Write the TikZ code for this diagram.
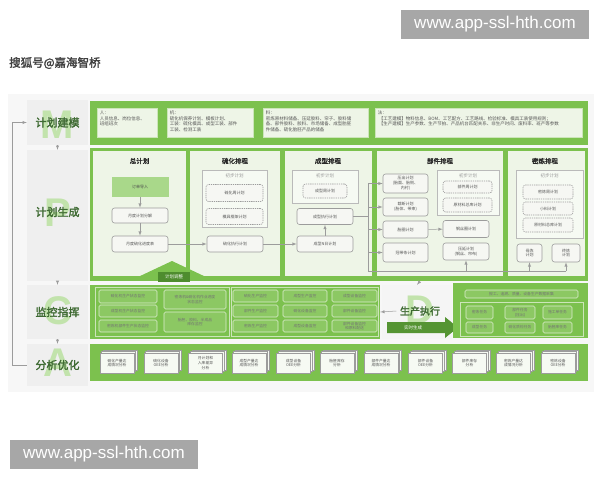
\documentclass[tikz,border=0pt]{standalone}
\usepackage{fontspec}
\usepackage{tikz}
\usetikzlibrary{arrows,positioning,shapes,shadows}

\newfontfamily\cjk{Noto Sans CJK SC}[AutoFakeBold=2]
\newfontfamily\wmfont{Liberation Sans}

\definecolor{gmain}{HTML}{7CC14E}
\definecolor{gpale}{HTML}{EEF5E7}
\definecolor{gdark}{HTML}{4E8C2E}
\definecolor{glight}{HTML}{A9D88A}
\definecolor{gletter}{HTML}{C2E3AC}
\definecolor{labtxt}{HTML}{3E6A32}
\definecolor{boxline}{HTML}{9C9C9C}
\definecolor{boxfill}{HTML}{F6F7F3}
\definecolor{txtgray}{HTML}{555555}
\definecolor{labbg}{HTML}{EFEFEF}
\definecolor{wmgray}{HTML}{A7A7A7}

\tikzset{
  x=1pt, y=-1pt,
  wmark/.style={fill=wmgray, text=white, font=\wmfont\fontsize{17}{18}\selectfont, minimum width=188, minimum height=29, inner sep=0pt},
  labbox/.style={fill=labbg, minimum width=61, inner sep=0pt},
  secname/.style={font=\cjk\bfseries\fontsize{11}{12}\selectfont, text=labtxt},
  bigltr/.style={font=\wmfont\bfseries\fontsize{40}{40}\selectfont, text=gletter},
  frame/.style={fill=gmain, inner sep=0pt},
  panel/.style={fill=gpale, inner sep=0pt, minimum height=125},
  coltitle/.style={font=\cjk\bfseries\fontsize{6.5}{7}\selectfont, text=black!85},
  mdlbox/.style={fill=gpale, draw=gpale!70!gmain, line width=0.6pt, inner sep=0pt, minimum height=29},
  mdltext/.style={font=\cjk\fontsize{4.5}{5.5}\selectfont, text=txtgray, align=left, inner sep=0pt},
  pbox/.style={draw=boxline, fill=boxfill, rounded corners=2.5pt, line width=0.6pt, align=center, inner sep=0pt, font=\cjk\fontsize{4}{4.8}\selectfont, text=txtgray},
  dbox/.style={pbox, dash pattern=on 1.3pt off 0.9pt},
  grpbox/.style={draw=boxline!70, fill=white!50!gpale, line width=0.5pt, inner sep=0pt},
  grptitle/.style={font=\cjk\fontsize{4.5}{5}\selectfont, text=black!40, inner sep=0pt},
  conn/.style={draw=boxline, line width=0.5pt},
  mbox/.style={draw=gpale!85!gmain, fill=gmain!88!white, line width=0.6pt, rounded corners=1.5pt, inner sep=0pt, align=center, font=\cjk\fontsize{3.8}{4.6}\selectfont, text=black!55},
  mgrp/.style={draw=gpale!70!gmain, line width=0.6pt},
  darklab/.style={fill=gdark, text=white, font=\cjk\fontsize{4.5}{5}\selectfont, inner sep=0pt},
  doc/.style={draw=boxline, fill=gpale!50!white, line width=0.4pt, minimum width=34, minimum height=20, inner sep=0pt, align=center, font=\cjk\fontsize{3.8}{4.6}\selectfont, text=txtgray,
    double copy shadow={shadow xshift=1.6pt, shadow yshift=1.6pt, draw=boxline, fill=gpale!50!white, line width=0.4pt}},
}

\begin{document}
\begin{tikzpicture}
\useasboundingbox (0,0) rectangle (600,480);

% watermarks and title
\node[wmark] (wm1) at (495,24.5) {www.app-ssl-hth.com};
\node[wmark] (wm2) at (104,454.5) {www.app-ssl-hth.com};
\node[font=\cjk\bfseries\fontsize{11.5}{12}\selectfont, text=black!75, anchor=west, inner sep=0pt] (ttl) at (9,63) {搜狐号@嘉海智桥};

% background
\fill[black!3] (8,94) rectangle (594,392);

% left labels
\node[labbox, minimum height=45] (jm) at (57.5,122.5) {};
\node[labbox, minimum height=131] (sc) at (57.5,215.5) {};
\node[labbox, minimum height=54] (jk) at (57.5,312) {};
\node[labbox, minimum height=42] (fx) at (57.5,365) {};
\node[bigltr] (ltrm) at (57.5,125) {M};
\node[bigltr] (ltrp) at (57.5,213) {P};
\node[bigltr] (ltrc) at (57.5,311) {C};
\node[bigltr] (ltra) at (57.5,363) {A};
\node[secname] (jmt) at (jm) {计划建模};
\node[secname] (sct) at (57.5,212) {计划生成};
\node[secname] (jkt) at (jk) {监控指挥};
\node[secname] (fxt) at (fx) {分析优化};
\coordinate (lbtop) at (12,122.5);
\draw[conn,-latex] (fx.west) -| (lbtop) -- (jm.west);
\draw[conn,-latex] (jm.south) -- (sc.north);
\draw[conn,-latex] (sc.south) -- (jk.north);
\draw[conn,-latex] (jk.south) -- (fx.north);

% plan modelling
\node[frame, minimum width=498, minimum height=44] (jmf) at (339,123) {};
\node[mdlbox, minimum width=60] (mren) at (127,122.5) {};
\node[mdlbox, minimum width=86] (mji) at (210,122.5) {};
\node[mdlbox, minimum width=105] (mliao) at (315.5,122.5) {};
\node[mdlbox, minimum width=207] (mfa) at (478.5,122.5) {};
\node[mdltext, anchor=north west] (mrent) at ([xshift=3pt,yshift=-3pt]mren.north west) {人：\\人员信息、岗位信息、\\班组班次};
\node[mdltext, anchor=north west] (mjit) at ([xshift=3pt,yshift=-3pt]mji.north west) {机：\\硫化机保养计划、模板计划、\\工装：硫化模具、成型工装、部件\\工装、检测工装};
\node[mdltext, anchor=north west] (mliaot) at ([xshift=3pt,yshift=-3pt]mliao.north west) {料：\\密炼原材料储备、压延胶料、帘子、胶料储\\备、部件胶料、胶料、市场储备、成型胎胚\\件储备、硫化胎胚产品的储备};
\node[mdltext, anchor=north west] (mfat) at ([xshift=3pt,yshift=-3pt]mfa.north west) {法：\\\ 【工艺建模】物料信息、BOM、工艺配方、工艺路线、检验标准、模具工装使用规则；\\\ 【生产建模】生产参数、生产节拍、产品机台匹配关系、非生产时间、废料率、班产等参数};

% plan generation frame and panels
\node[frame, minimum width=498, minimum height=133] (scf) at (339,214.5) {};
\node[panel, minimum width=93] (pzjh) at (139.5,213.5) {};
\node[panel, minimum width=90] (plh) at (235,213.5) {};
\node[panel, minimum width=87] (pcx) at (328.5,213.5) {};
\node[panel, minimum width=126] (pbj) at (440,213.5) {};
\node[panel, minimum width=77] (pml) at (546.5,213.5) {};
\node[coltitle] (tzjh) at (139.5,161) {总计划};
\node[coltitle] (tlh) at (235,161) {硫化排程};
\node[coltitle] (tcx) at (328,161) {成型排程};
\node[coltitle] (tbj) at (440,161) {部件排程};
\node[coltitle] (tml) at (545,161) {密炼排程};

% master plan
\node[pbox, fill=glight, draw=glight, rounded corners=0pt, minimum width=56, minimum height=19, text=black!70] (ddrr) at (140,187) {订单导入};
\node[pbox, minimum width=56, minimum height=15] (ydfj) at (140,215.5) {月度计划分解};
\node[pbox, minimum width=56, minimum height=16] (ydjd) at (140,244) {月度硫化进度表};

% curing
\node[grpbox, minimum width=65, minimum height=57] (glh) at (234.5,198.5) {};
\node[grptitle, below=4pt of glh.north] (glht) {初步计划};
\node[dbox, minimum width=57, minimum height=17] (lhzjh) at (234.5,193) {硫化周计划};
\node[dbox, minimum width=57, minimum height=16] (mjkj) at (234.5,216.5) {模具框架计划};
\node[pbox, minimum width=56, minimum height=16] (lhzx) at (235,244) {硫化执行计划};

% building
\node[grpbox, minimum width=66, minimum height=33] (gcx) at (325,186.5) {};
\node[grptitle, below=4pt of gcx.north] (gcxt) {初步计划};
\node[dbox, minimum width=44, minimum height=14] (cxzjh) at (325,191) {成型周计划};
\node[pbox, minimum width=56, minimum height=16] (cxzx) at (325,216.5) {成型执行计划};
\node[pbox, minimum width=56, minimum height=16] (cxnr) at (325,244) {成型N日计划};

% components
\node[pbox, minimum width=45, minimum height=19] (yc) at (405.5,183.5) {压出计划\\(胎面、胎侧、\\内衬)};
\node[pbox, minimum width=45, minimum height=18] (cd) at (405.5,207) {裁断计划\\(胎体、带束)};
\node[pbox, minimum width=45, minimum height=17] (tq) at (405.5,229.5) {胎圈计划};
\node[pbox, minimum width=45, minimum height=19] (gdt) at (405.5,252.5) {冠带条计划};
\node[grpbox, minimum width=62, minimum height=45] (gbj) at (468,192.5) {};
\node[grptitle, below=4pt of gbj.north] (gbjt) {初步计划};
\node[dbox, minimum width=49, minimum height=12] (bjzjh) at (467.5,187) {部件周计划};
\node[dbox, minimum width=49, minimum height=14] (ylzk1) at (467.5,205) {原材料总库计划};
\node[pbox, minimum width=46, minimum height=17] (gsq) at (466,229) {钢丝圈计划};
\node[pbox, minimum width=46, minimum height=17] (yy) at (466,251.5) {压延计划\\(钢丝、帘布)};

% mixing
\node[grpbox, minimum width=67, minimum height=68] (gml) at (549.5,204) {};
\node[grptitle, below=4pt of gml.north] (gmlt) {初步计划};
\node[dbox, minimum width=50, minimum height=14] (mlzjh) at (548,192) {密炼周计划};
\node[dbox, minimum width=50, minimum height=13] (xl) at (548,208.5) {小料计划};
\node[dbox, minimum width=50, minimum height=14] (ylzk2) at (548,225) {原材料总库计划};
\node[pbox, minimum width=25, minimum height=18] (mul) at (529.5,253) {母炼\\计划};
\node[pbox, minimum width=28, minimum height=18] (zl) at (566,253) {终炼\\计划};

% plan connectors
\draw[conn,-latex] (ddrr) -- (ydfj);
\draw[conn,-latex] (ydfj) -- (ydjd);
\draw[conn,-latex] (ydjd) -- (lhzx);
\draw[conn,-latex] (lhzx) -- (cxnr);
\draw[conn,-latex] (cxnr) -- (cxzx);
\draw[conn,-latex] (tq) -- (gsq);
\coordinate (bkt) at (368,183.5);
\coordinate (bkb) at (368,271);
\draw[conn] (cxzx.east) -- (cxzx.east -| bkt);
\draw[conn] (bkt) -- (bkb) -- (bkb -| zl);
\foreach \b in {yc,cd,tq,gdt} \draw[conn,-latex] (bkt |- \b.west) -- (\b.west);
\foreach \b in {yy,mul,zl} \draw[conn,-latex] (bkb -| \b.south) -- (\b.south);

% monitoring
\node[frame, minimum width=290, minimum height=54] (jkf) at (235,312) {};
\draw[mgrp] (95,287.5) rectangle (229,336.5);
\draw[mgrp] (231,287.5) rectangle (378,336.5);
\node[mbox, minimum width=58, minimum height=13] (jk1) at (128,296.5) {硫化机生产状态监控};
\node[mbox, minimum width=58, minimum height=12] (jk2) at (128,311) {成型机生产状态监控};
\node[mbox, minimum width=58, minimum height=12] (jk3) at (128,326) {密炼机部件生产状态监控};
\node[mbox, minimum width=62, minimum height=19] (jk4) at (195,299.5) {密炼机\&硫化机作业进度\\状态监控};
\node[mbox, minimum width=62, minimum height=20] (jk5) at (195,322) {胎胚、胶料、半成品\\库存监控};
\node[mbox, minimum width=45, minimum height=12] (jka1) at (255.5,296) {硫化生产监控};
\node[mbox, minimum width=45, minimum height=12] (jka2) at (255.5,311) {部件生产监控};
\node[mbox, minimum width=45, minimum height=12] (jka3) at (255.5,326) {密炼生产监控};
\node[mbox, minimum width=44, minimum height=12] (jkb1) at (305,296) {成型生产监控};
\node[mbox, minimum width=44, minimum height=12] (jkb2) at (305,311) {硫化设备监控};
\node[mbox, minimum width=44, minimum height=12] (jkb3) at (305,326) {成型设备监控};
\node[mbox, minimum width=45, minimum height=12] (jkc1) at (354.5,296) {成型设备监控};
\node[mbox, minimum width=45, minimum height=12] (jkc2) at (354.5,311) {部件设备监控};
\node[mbox, minimum width=45, minimum height=12] (jkc3) at (354.5,326) {部件设备监控\\和原料配送};

% adjustment arrow
\fill[gmain] (138,277) -- (172,261) -- (206,277) -- cycle;
\node[darklab, minimum width=32, minimum height=10] (tzlab) at (174,277) {计划调整};

% execution
\node[fill=black!4, minimum width=70, minimum height=54, inner sep=0pt] (zxbg) at (417,312) {};
\node[bigltr] (ltrd) at (420,310) {D};
\node[secname, font=\cjk\bfseries\fontsize{10}{11}\selectfont] (zxt) at (420,311) {生产执行};
\draw[conn,-latex] (zxt.west) -- (jkf.east);
\draw[conn,-latex] (scf.south -| zxt) -- (zxbg.north);
\fill[gdark!85!gmain] (387,322) -- (445,322) -- (445,317) -- (458,327.5) -- (445,338) -- (445,333) -- (387,333) -- cycle;
\node[darklab, fill=none] (ssfk) at (413,327.5) {实时生成};
\node[frame, minimum width=135, minimum height=55] (zxf) at (520.5,310.5) {};
\node[mbox, minimum width=113, minimum height=8] (cj) at (521.5,294) {报工、追溯、质量、设备生产数据采集};
\draw[mgrp] (460,302) rectangle (583,336);
\node[mbox, minimum width=27, minimum height=13] (rw1) at (479.5,312.5) {密炼任务};
\node[mbox, minimum width=30, minimum height=13] (rw2) at (520,312.5) {部件任务\\(压出)};
\node[mbox, minimum width=29, minimum height=13] (rw3) at (557.5,312.5) {施工单任务};
\node[mbox, minimum width=27, minimum height=11] (rw4) at (479.5,327.5) {成型任务};
\node[mbox, minimum width=30, minimum height=11] (rw5) at (520,327.5) {硫化质检任务};
\node[mbox, minimum width=29, minimum height=11] (rw6) at (557.5,327.5) {胎胚库任务};

% analysis
\node[frame, minimum width=498, minimum height=37] (fxf) at (339,362.5) {};
\node[doc] (d1) at (117,363) {硫化产量达\\成情况分析};
\node[doc] (d2) at (161,363) {硫化设备\\OEE分析};
\node[doc] (d3) at (205.5,363) {月计划和\\入库差异\\分析};
\node[doc] (d4) at (249,363) {成型产量达\\成情况分析};
\node[doc] (d5) at (293.5,363) {成型设备\\OEE分析};
\node[doc] (d6) at (337,363) {胎胚库存\\分析};
\node[doc] (d7) at (381,363) {部件产量达\\成情况分析};
\node[doc] (d8) at (425.5,363) {部件设备\\OEE分析};
\node[doc] (d9) at (469.5,363) {部件库存\\分析};
\node[doc] (d10) at (513.5,363) {密炼产量达\\成情况分析};
\node[doc] (d11) at (558,363) {密炼设备\\OEE分析};
\end{tikzpicture}
\end{document}
